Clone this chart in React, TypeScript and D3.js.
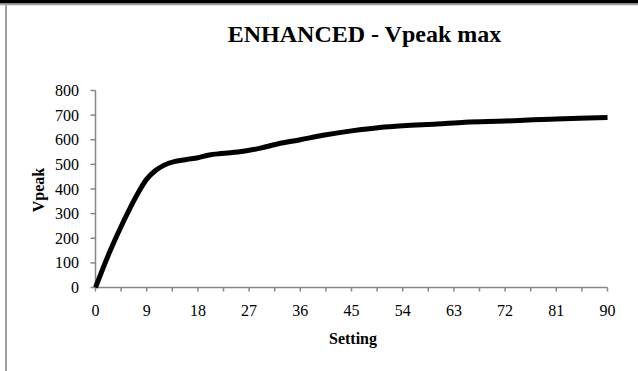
import React from "react";
import * as d3 from "d3";

const settings = [0, 2.5, 5, 7.5, 9, 10.5, 12, 14, 16, 18, 20, 22, 26, 29, 32, 36, 40, 45, 50, 54, 60, 65, 72, 77, 81, 85, 90];
const vpeak = [0, 145, 272, 385, 440, 474, 496, 512, 520, 527, 538, 544, 553, 566, 583, 600, 618, 636, 650, 657, 664, 671, 676, 681, 684, 687, 690];
const xTickLabels = [0, 9, 18, 27, 36, 45, 54, 63, 72, 81, 90];
const yTickLabels = [0, 100, 200, 300, 400, 500, 600, 700, 800];
const title = "ENHANCED - Vpeak max";
const xTitle = "Setting";
const yTitle = "Vpeak";

export default function App() {
  const W = 638, H = 371;
  const x = d3.scaleLinear().domain([0, 90]).range([95.5, 607.5]);
  const y = d3.scaleLinear().domain([0, 800]).range([287.5, 90.5]);
  const pts = settings.map((s, i) => [s, vpeak[i]] as [number, number]);
  const line = d3.line<[number, number]>().x(d => x(d[0])).y(d => y(d[1])).curve(d3.curveMonotoneX);
  const minor = d3.range(0, 90.01, 4.5);
  const font = "'Liberation Serif', 'Times New Roman', serif";
  const axisColor = "#868686";
  return (
    <svg width={W} height={H} style={{ position: "absolute", left: 0, top: 0 }} fontFamily={font}>
      <rect x={0} y={0} width={W} height={H} fill="#fff" />
      <rect x={0} y={0} width={W} height={3.5} fill="#000" />
      <line x1={0} x2={W} y1={4.5} y2={4.5} stroke="#a0a0a0" strokeWidth={1.5} />
      <line x1={6} x2={6} y1={4} y2={H} stroke="#a0a0a0" strokeWidth={2} />
      <text x={364.5} y={41.5} textAnchor="middle" fontSize={24} fontWeight="bold" fill="#000">{title}</text>
      {/* y axis */}
      <line x1={x(0)} x2={x(0)} y1={y(0)} y2={y(800)} stroke={axisColor} strokeWidth={1.5} />
      {yTickLabels.map(v => (
        <g key={v}>
          <line x1={x(0) - 5} x2={x(0)} y1={y(v)} y2={y(v)} stroke={axisColor} strokeWidth={1.5} />
          <text x={79} y={y(v)} dy="0.35em" textAnchor="end" fontSize={16} fill="#000">{v}</text>
        </g>
      ))}
      {/* x axis */}
      <line x1={x(0)} x2={x(90)} y1={y(0)} y2={y(0)} stroke={axisColor} strokeWidth={1.5} />
      {minor.map(v => (
        <line key={v} x1={x(v)} x2={x(v)} y1={y(0)} y2={y(0) + 4} stroke={axisColor} strokeWidth={1.5} />
      ))}
      {xTickLabels.map(v => (
        <text key={v} x={x(v)} y={315.5} textAnchor="middle" fontSize={16} fill="#000">{v}</text>
      ))}
      <text x={353} y={343.5} textAnchor="middle" fontSize={16} fontWeight="bold" fill="#000">{xTitle}</text>
      <text transform={`translate(44,190) rotate(-90)`} textAnchor="middle" fontSize={16} fontWeight="bold" fill="#000">{yTitle}</text>
      <path d={line(pts) || ""} fill="none" stroke="#000" strokeWidth={5} strokeLinejoin="round" strokeLinecap="butt" />
    </svg>
  );
}
